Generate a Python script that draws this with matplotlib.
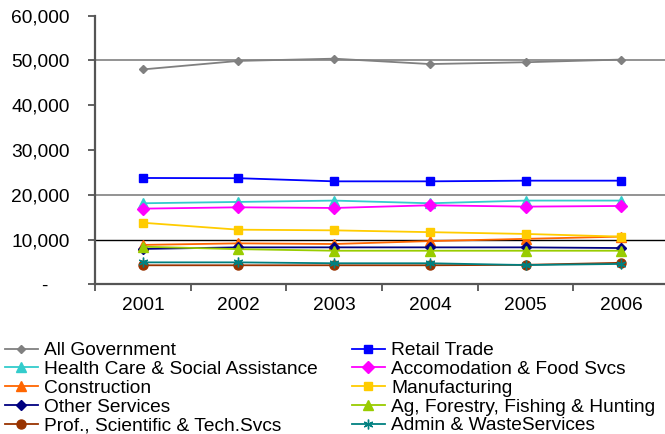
import matplotlib
matplotlib.use("Agg")
import matplotlib.pyplot as plt
from matplotlib.transforms import ScaledTranslation

plt.rcParams['font.family'] = ['Liberation Sans', 'DejaVu Sans']

years = ["2001", "2002", "2003", "2004", "2005", "2006"]

all_government = [48000, 49900, 50400, 49200, 49600, 50200]
retail_trade = [23750, 23700, 23000, 23000, 23150, 23150]
health_care = [18100, 18400, 18700, 18100, 18700, 18700]
accomodation = [16900, 17200, 17050, 17650, 17350, 17500]
construction = [8800, 9150, 9000, 9650, 10150, 10650]
manufacturing = [13750, 12200, 12050, 11650, 11250, 10650]
other_services = [7900, 8250, 8250, 8250, 8250, 8100]
ag_forestry = [8400, 7850, 7500, 7500, 7500, 7500]
prof_scientific = [4250, 4250, 4250, 4250, 4350, 4800]
admin_waste = [4900, 4900, 4700, 4700, 4300, 4550]

series_names = ["All Government", "Retail Trade", "Health Care & Social Assistance",
                "Accomodation & Food Svcs", "Construction", "Manufacturing",
                "Other Services", "Ag, Forestry, Fishing & Hunting",
                "Prof., Scientific & Tech.Svcs", "Admin & WasteServices"]
series_values = [all_government, retail_trade, health_care, accomodation, construction,
                 manufacturing, other_services, ag_forestry, prof_scientific, admin_waste]
colors = ["#808080", "#0000FF", "#33CCCC", "#FF00FF", "#FF6600", "#FFCC00",
          "#000080", "#99CC00", "#993300", "#008080"]
markers = ["D", "s", "^", "D", "^", "s", "D", "^", "o", (6, 2, 0)]
msizes = [4.5, 5.5, 6.5, 6, 6.5, 6, 5, 6.5, 6.5, 7]

y_ticks = [0, 10000, 20000, 30000, 40000, 50000, 60000]
y_tick_labels = ["-", "10,000", "20,000", "30,000", "40,000", "50,000", "60,000"]

W, H = 665, 434
fig = plt.figure(figsize=(W / 100, H / 100), dpi=100)
ax = fig.add_axes([95 / W, (H - 284.3) / H, (669 - 95) / W, (284.3 - 15.7) / H])

# partial gridlines as in reference
ax.axhline(10000, color="black", lw=1.0, zorder=1)
ax.axhline(20000, color="#808080", lw=1.2, zorder=1)
ax.axhline(50000, color="#808080", lw=1.2, zorder=1)

x = list(range(len(years)))
handles = []
for name, vals, c, m, ms in zip(series_names, series_values, colors, markers, msizes):
    h, = ax.plot(x, vals, color=c, marker=m, markersize=ms, lw=1.3,
                 markerfacecolor=c, markeredgecolor=c, markeredgewidth=1.0,
                 label=name, zorder=3, clip_on=False)
    handles.append(h)

ax.set_xlim(-0.5, 5.5)
ax.set_ylim(0, 60000)

for s in ["top", "right"]:
    ax.spines[s].set_visible(False)
ax.spines["left"].set_color("#555555")
ax.spines["left"].set_linewidth(1.6)
ax.spines["bottom"].set_color("#555555")
ax.spines["bottom"].set_linewidth(1.6)

ax.set_xticks([i - 0.5 for i in range(len(years) + 1)])
ax.set_xticklabels([])
ax.set_xticks(x, minor=True)
ax.set_xticklabels(years, minor=True, fontsize=13.8)
ax.tick_params(axis="x", which="major", direction="out", length=5, width=1.3, color="#555555")
ax.tick_params(axis="x", which="minor", length=0, pad=9)

ax.set_yticks(y_ticks)
ax.set_yticklabels(y_tick_labels, fontsize=13.8)
ax.tick_params(axis="y", direction="out", length=5, width=1.3, color="#555555", pad=13)
lbl0 = ax.get_yticklabels()[0]
lbl0.set_transform(lbl0.get_transform() + ScaledTranslation(-0.23, 0, fig.dpi_scale_trans))

col1 = [0, 2, 4, 6, 8]
col2 = [1, 3, 5, 7, 9]
common = dict(frameon=False, fontsize=13.8, handlelength=1.7, handletextpad=0.35,
              labelspacing=0.07, borderpad=0, borderaxespad=0, loc="upper left")
leg1 = fig.legend([handles[i] for i in col1], [series_names[i] for i in col1],
                  bbox_to_anchor=(5 / W, 1 - 342 / H), **common)
leg2 = fig.legend([handles[i] for i in col2], [series_names[i] for i in col2],
                  bbox_to_anchor=(352 / W, 1 - 342 / H), **common)

fig.savefig("out.png", dpi=100)
